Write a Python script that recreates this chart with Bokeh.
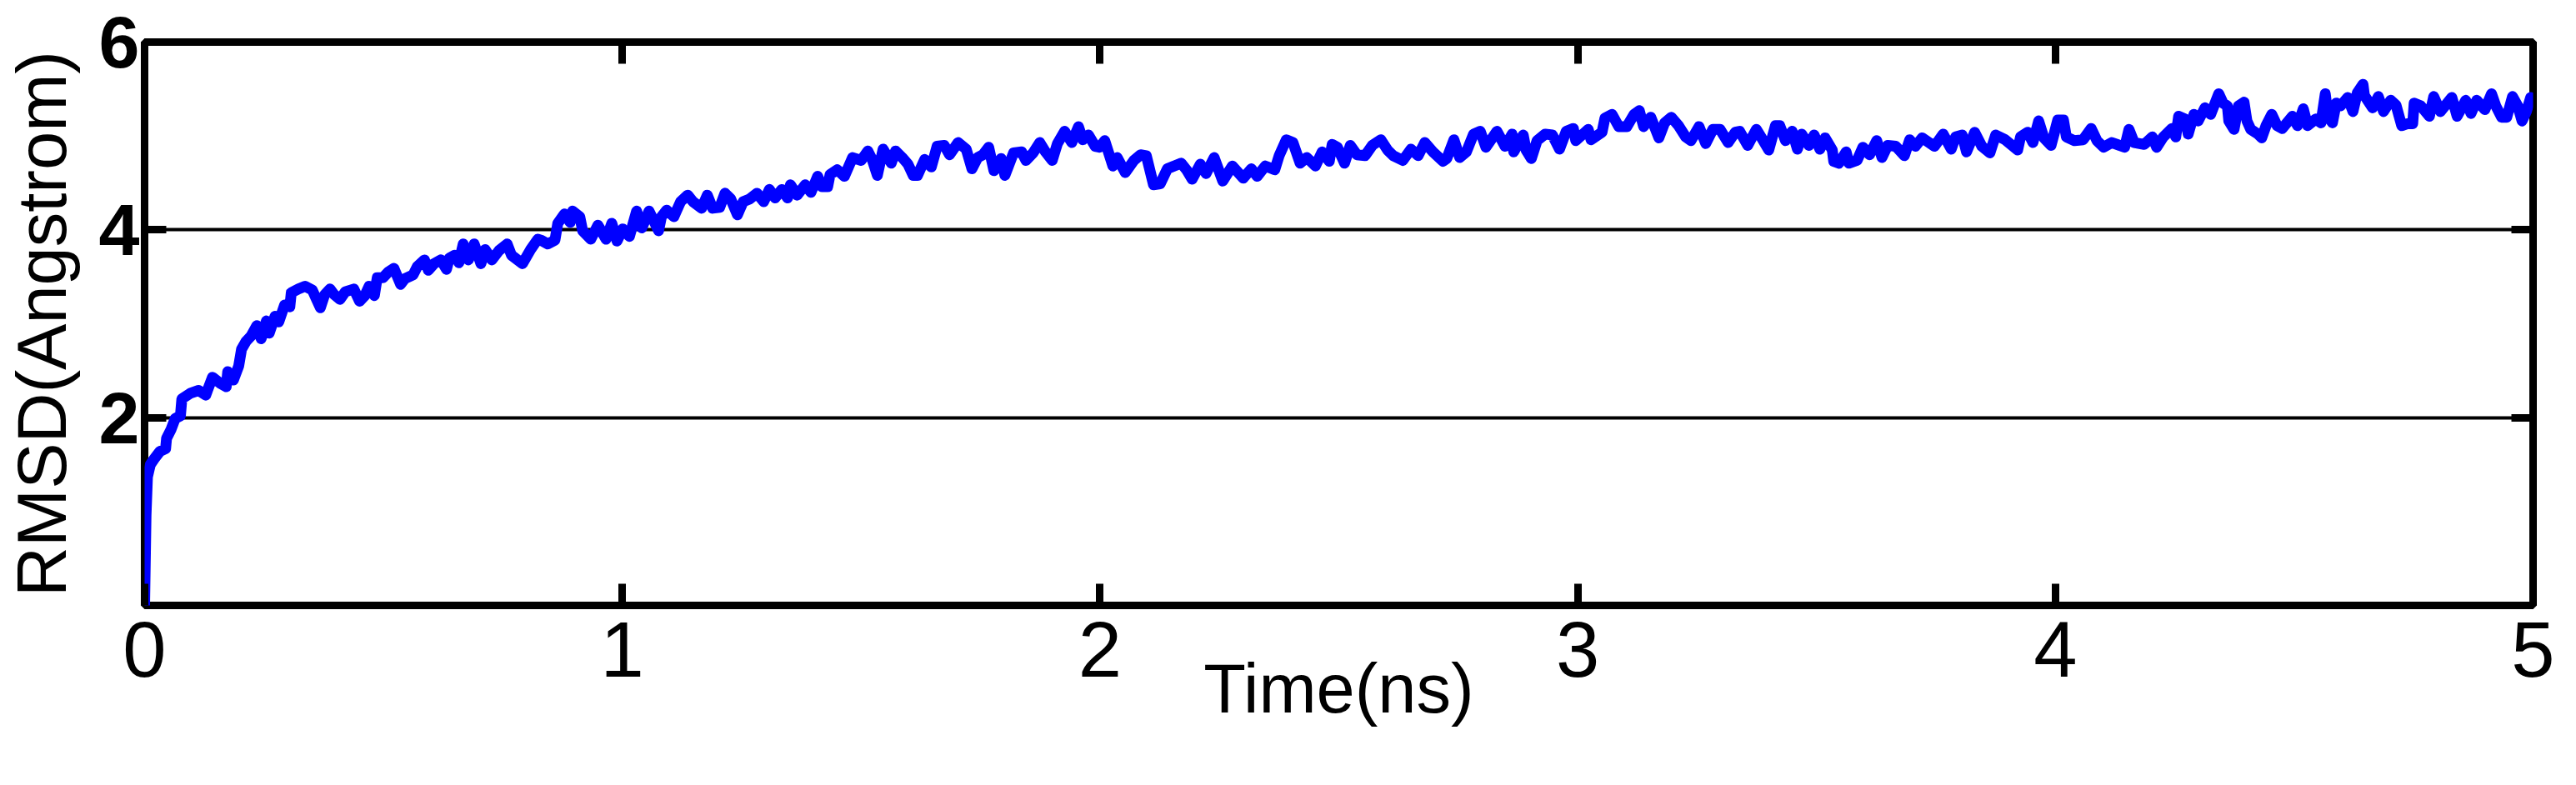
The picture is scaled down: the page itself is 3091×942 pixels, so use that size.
from bokeh.plotting import figure
from bokeh.models import Range1d, LinearAxis, FixedTicker
from bokeh.embed import file_html
from bokeh.resources import INLINE

# ---- data (time in ns, RMSD in Angstrom) ----
time_a = [0.000, 0.003, 0.006, 0.012, 0.020, 0.032, 0.044, 0.046, 0.055, 0.064,
          0.075, 0.078, 0.096, 0.113, 0.128, 0.142, 0.157, 0.171, 0.174, 0.186,
          0.197, 0.203, 0.212, 0.223, 0.235, 0.244, 0.255, 0.261, 0.273, 0.281,
          0.293, 0.304, 0.307, 0.322, 0.336, 0.351, 0.359, 0.368, 0.377, 0.388,
          0.397, 0.409, 0.420, 0.438, 0.450, 0.461, 0.470, 0.481, 0.487, 0.499,
          0.510, 0.522, 0.536, 0.545, 0.562, 0.571, 0.586, 0.594, 0.606, 0.620,
          0.632, 0.638, 0.649, 0.658, 0.667, 0.678, 0.690, 0.704, 0.713, 0.727,
          0.742, 0.759, 0.768, 0.791, 0.808, 0.823]
rmsd_a = [0.00, 0.96, 1.37, 1.50, 1.56, 1.64, 1.67, 1.78, 1.87, 1.99,
          2.02, 2.20, 2.26, 2.29, 2.24, 2.43, 2.37, 2.33, 2.49, 2.40,
          2.55, 2.73, 2.81, 2.87, 2.98, 2.84, 3.03, 2.90, 3.08, 3.02,
          3.20, 3.18, 3.33, 3.37, 3.40, 3.36, 3.27, 3.17, 3.31, 3.37,
          3.31, 3.26, 3.34, 3.37, 3.24, 3.30, 3.40, 3.30, 3.49, 3.49,
          3.55, 3.59, 3.42, 3.48, 3.52, 3.61, 3.68, 3.57, 3.64, 3.68,
          3.58, 3.70, 3.73, 3.65, 3.85, 3.68, 3.85, 3.64, 3.79, 3.68,
          3.78, 3.85, 3.73, 3.64, 3.79, 3.90]

time_b = [0.830, 0.844, 0.859, 0.865, 0.879, 0.891, 0.896, 0.911, 0.917, 0.934,
          0.949, 0.966, 0.978, 0.989, 1.001, 1.015, 1.030, 1.041, 1.056, 1.076,
          1.082, 1.093, 1.108, 1.122, 1.137, 1.148, 1.166, 1.178, 1.189, 1.204,
          1.215, 1.227, 1.241, 1.253, 1.267, 1.282, 1.296, 1.308, 1.320, 1.334,
          1.346, 1.352, 1.366, 1.383, 1.395, 1.409, 1.418, 1.430, 1.435, 1.450,
          1.465, 1.482, 1.500, 1.514, 1.523, 1.534, 1.546, 1.563, 1.572, 1.586,
          1.598, 1.609, 1.618, 1.633, 1.647, 1.659]
rmsd_b = [3.89, 3.85, 3.89, 4.07, 4.17, 4.08, 4.20, 4.14, 3.99, 3.90,
          4.05, 3.90, 4.07, 3.88, 4.01, 3.93, 4.20, 4.02, 4.20, 3.99,
          4.14, 4.21, 4.14, 4.30, 4.37, 4.30, 4.23, 4.37, 4.23, 4.24,
          4.39, 4.33, 4.16, 4.30, 4.33, 4.39, 4.30, 4.43, 4.34, 4.43,
          4.34, 4.48, 4.37, 4.48, 4.40, 4.57, 4.46, 4.46, 4.59, 4.64,
          4.57, 4.77, 4.74, 4.84, 4.75, 4.58, 4.86, 4.71, 4.84, 4.77,
          4.70, 4.58, 4.58, 4.75, 4.67, 4.89]

time_c = [1.674, 1.685, 1.703, 1.720, 1.732, 1.744, 1.755, 1.767, 1.778, 1.793,
          1.801, 1.819, 1.836, 1.845, 1.860, 1.874, 1.886, 1.900, 1.911, 1.926,
          1.941, 1.955, 1.964, 1.976, 1.990, 1.999, 2.010, 2.027, 2.036, 2.053,
          2.071, 2.085, 2.097, 2.112, 2.126, 2.141, 2.155, 2.170, 2.181, 2.193,
          2.210, 2.222, 2.239, 2.257, 2.277, 2.300, 2.317, 2.329, 2.346, 2.366,
          2.375, 2.390, 2.404, 2.419, 2.433, 2.451, 2.465, 2.480, 2.486]
rmsd_c = [4.90, 4.80, 4.93, 4.86, 4.65, 4.77, 4.80, 4.88, 4.63, 4.76,
          4.58, 4.82, 4.83, 4.74, 4.82, 4.93, 4.83, 4.74, 4.92, 5.05,
          4.93, 5.10, 4.96, 5.01, 4.89, 4.88, 4.95, 4.68, 4.77, 4.61,
          4.74, 4.80, 4.79, 4.48, 4.49, 4.65, 4.68, 4.71, 4.64, 4.54,
          4.70, 4.60, 4.77, 4.52, 4.68, 4.55, 4.65, 4.57, 4.68, 4.64,
          4.79, 4.96, 4.93, 4.71, 4.77, 4.68, 4.83, 4.73, 4.91]

time_d = [2.497, 2.512, 2.524, 2.538, 2.555, 2.570, 2.588, 2.602, 2.614, 2.634,
          2.651, 2.666, 2.680, 2.697, 2.718, 2.726, 2.741, 2.753, 2.767, 2.782,
          2.796, 2.808, 2.831, 2.848, 2.863, 2.866, 2.886, 2.892, 2.903, 2.915,
          2.932, 2.947, 2.962, 2.976, 2.991, 2.996, 3.022, 3.028, 3.051, 3.057,
          3.072, 3.086, 3.103, 3.118, 3.129, 3.138, 3.153, 3.170, 3.182, 3.196,
          3.211, 3.226, 3.237, 3.254, 3.268, 3.283, 3.298, 3.315, 3.330]
rmsd_d = [4.88, 4.71, 4.90, 4.80, 4.79, 4.90, 4.96, 4.85, 4.79, 4.74,
          4.86, 4.79, 4.93, 4.83, 4.73, 4.76, 4.96, 4.77, 4.83, 5.02,
          5.05, 4.88, 5.05, 4.89, 5.02, 4.83, 5.01, 4.85, 4.76, 4.95,
          5.02, 5.01, 4.86, 5.05, 5.08, 4.95, 5.07, 4.96, 5.04, 5.19,
          5.23, 5.10, 5.10, 5.23, 5.27, 5.10, 5.20, 4.98, 5.14, 5.20,
          5.11, 4.99, 4.95, 5.10, 4.92, 5.07, 5.07, 4.93, 5.04]

time_e = [3.339, 3.356, 3.374, 3.385, 3.400, 3.414, 3.423, 3.435, 3.449, 3.460,
          3.469, 3.484, 3.495, 3.507, 3.518, 3.533, 3.536, 3.547, 3.562, 3.568,
          3.585, 3.597, 3.611, 3.626, 3.637, 3.649, 3.666, 3.684, 3.695, 3.707,
          3.721, 3.747, 3.765, 3.782, 3.791, 3.805, 3.814, 3.831, 3.846, 3.863,
          3.875, 3.895, 3.921, 3.927, 3.942, 3.953, 3.965, 3.976, 3.991, 4.005,
          4.017, 4.023, 4.040, 4.058, 4.075, 4.087, 4.101, 4.118, 4.145, 4.154,
          4.165]
rmsd_e = [5.05, 4.90, 5.07, 4.98, 4.85, 5.11, 5.11, 4.95, 5.05, 4.86,
          5.02, 4.90, 5.01, 4.86, 4.98, 4.85, 4.73, 4.71, 4.83, 4.71,
          4.74, 4.88, 4.80, 4.95, 4.77, 4.90, 4.89, 4.79, 4.96, 4.89,
          4.98, 4.89, 5.02, 4.86, 4.99, 5.01, 4.83, 5.04, 4.89, 4.82,
          5.01, 4.96, 4.85, 4.99, 5.04, 4.93, 5.16, 4.98, 4.90, 5.17,
          5.17, 4.99, 4.95, 4.96, 5.08, 4.95, 4.88, 4.93, 4.88, 5.07,
          4.93]

time_f = [4.186, 4.203, 4.212, 4.226, 4.244, 4.252, 4.258, 4.272, 4.278, 4.290,
          4.299, 4.313, 4.325, 4.342, 4.351, 4.360, 4.363, 4.374, 4.383, 4.395,
          4.401, 4.409, 4.424, 4.432, 4.441, 4.453, 4.464, 4.475, 4.496, 4.507,
          4.519, 4.528, 4.545, 4.556, 4.565, 4.571, 4.580, 4.588, 4.597, 4.612,
          4.623, 4.632, 4.644, 4.647, 4.664, 4.676, 4.687, 4.702, 4.713, 4.725,
          4.736, 4.748, 4.751, 4.765, 4.783, 4.792, 4.806, 4.830, 4.841, 4.859,
          4.870, 4.882, 4.899, 4.913, 4.922, 4.934, 4.945, 4.957, 4.968, 4.977,
          4.986, 4.995]
rmsd_f = [4.91, 4.99, 4.88, 4.99, 5.08, 4.99, 5.21, 5.18, 5.02, 5.23,
          5.16, 5.30, 5.23, 5.45, 5.35, 5.32, 5.16, 5.07, 5.32, 5.36,
          5.16, 5.07, 5.02, 4.98, 5.11, 5.23, 5.11, 5.08, 5.21, 5.11,
          5.29, 5.11, 5.18, 5.14, 5.45, 5.20, 5.14, 5.35, 5.32, 5.41,
          5.26, 5.46, 5.55, 5.43, 5.30, 5.42, 5.26, 5.38, 5.33, 5.11,
          5.13, 5.13, 5.35, 5.32, 5.21, 5.42, 5.26, 5.41, 5.21, 5.38,
          5.24, 5.38, 5.28, 5.45, 5.32, 5.20, 5.20, 5.42, 5.32, 5.16,
          5.26, 5.41]

x_ticks = [0, 1, 2, 3, 4, 5]
x_tick_labels = ["0", "1", "2", "3", "4", "5"]
y_ticks = [2, 4, 6]
y_tick_labels = ["2", "4", "6"]
x_label = "Time(ns)"
y_label = "RMSD(Angstrom)"

time_ns = time_a + time_b + time_c + time_d + time_e + time_f
rmsd = rmsd_a + rmsd_b + rmsd_c + rmsd_d + rmsd_e + rmsd_f
n = min(len(time_ns), len(rmsd))
time_ns, rmsd = time_ns[:n], rmsd[:n]

FONT = "Liberation Sans"

p = figure(width=3075, height=926,
           x_range=Range1d(0, 5), y_range=Range1d(0, 6),
           output_backend="svg", toolbar_location=None,
           min_border_left=167, min_border_right=36,
           min_border_top=50, min_border_bottom=200,
           x_axis_label=x_label, y_axis_label=y_label)
p.background_fill_color = "white"
p.border_fill_color = "white"
p.outline_line_color = "black"
p.outline_line_width = 9

p.xgrid.visible = False
p.ygrid.ticker = FixedTicker(ticks=[2, 4])
p.ygrid.grid_line_color = "black"
p.ygrid.grid_line_width = 4

def style_axis(ax, ticks, labels, size="94px", bold=False, show=True):
    ax.ticker = FixedTicker(ticks=ticks)
    ax.major_label_overrides = {t: l for t, l in zip(ticks, labels)}
    ax.axis_line_color = None
    ax.major_tick_in = 26
    ax.major_tick_out = 0
    ax.minor_tick_in = 0
    ax.minor_tick_out = 0
    ax.major_tick_line_width = 9
    ax.major_tick_line_color = "black"
    ax.minor_tick_line_color = None
    ax.major_label_text_font = FONT
    ax.major_label_text_color = "black"
    ax.major_label_text_font_style = "bold" if bold else "normal"
    ax.major_label_text_font_size = size if show else "1px"
    if not show:
        ax.major_label_text_color = None
        ax.major_label_standoff = 0

xa = p.xaxis[0]
ya = p.yaxis[0]
style_axis(xa, x_ticks, x_tick_labels, size="94px")
style_axis(ya, y_ticks, y_tick_labels, size="88px", bold=True)
xa.major_label_standoff = 20
ya.major_label_standoff = 6
for ax in (xa, ya):
    ax.axis_label_text_font = FONT
    ax.axis_label_text_font_size = "83px"
    ax.axis_label_text_font_style = "normal"
    ax.axis_label_text_color = "black"
xa.axis_label_standoff = -35
ya.axis_label_standoff = 19

top = LinearAxis()
right = LinearAxis()
style_axis(top, x_ticks, ["" for _ in x_ticks], show=False)
style_axis(right, y_ticks, ["" for _ in y_ticks], show=False)
p.add_layout(top, "above")
p.add_layout(right, "right")

p.line(time_ns, rmsd, line_color="#0000FF", line_width=13,
       line_join="round", line_cap="round")

open("out.html", "w").write(file_html(p, INLINE))
